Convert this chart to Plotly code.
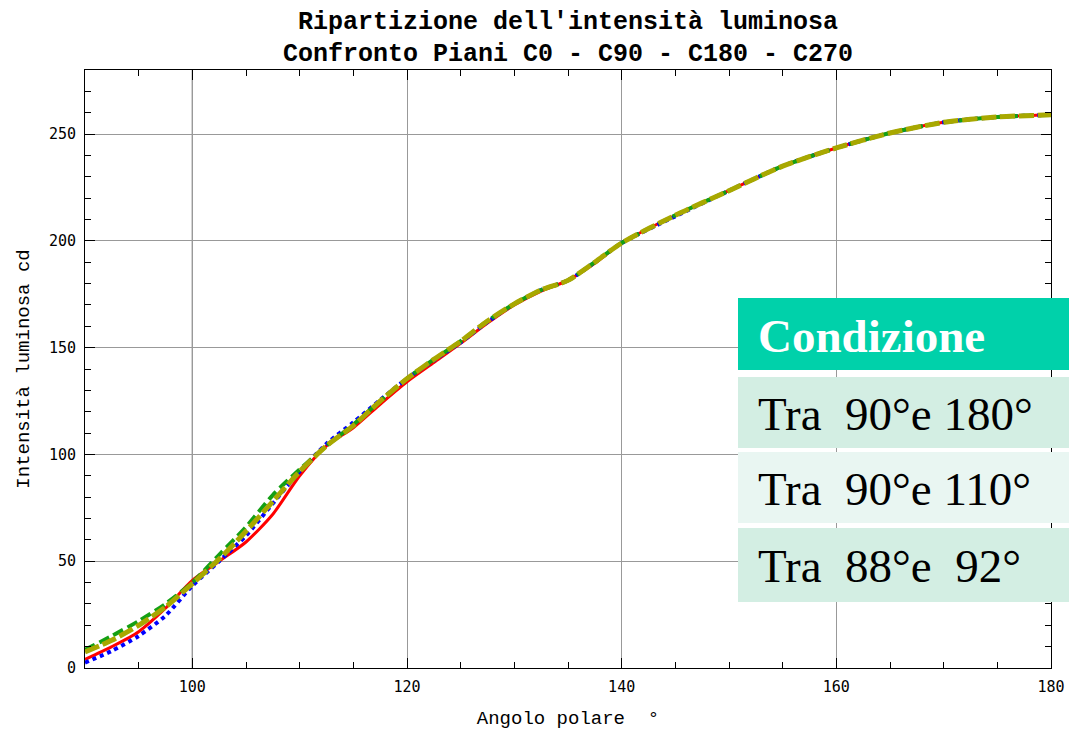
import plotly.graph_objects as go

# Polar angle samples (degrees)
angolo = [90, 92.5, 95, 97.5, 100, 102.5, 105, 107.5, 110, 112.5, 115, 117.5,
          120, 122.5, 125, 127.5, 130, 132.5, 135, 137.5, 140, 145, 150, 155,
          160, 165, 170, 175, 180]

# Luminous intensity (cd) for each C-plane
c0 = [4, 10, 17, 28, 41, 50, 59, 72, 90, 104, 112.5, 123.5, 134, 143, 152,
      161.5, 170, 176.5, 181.5, 189.5, 199, 212, 223.5, 235, 243.5, 250.5, 255.5, 258, 259]
c90 = [2.5, 8, 15, 24.5, 38.5, 50, 62, 77, 92, 105, 115, 125.5, 135.5, 144, 152.5,
       162, 170.5, 177, 181.5, 190, 199, 211.5, 223.5, 235, 243.5, 250.5, 255.5, 258, 259]
c180 = [8.5, 15, 22, 30, 40, 53, 66, 81, 93, 104, 114, 125, 135.5, 144.5, 153,
        162.5, 170.5, 177, 181.5, 190, 199, 212, 223.5, 235, 243.5, 250.5, 255.5, 258, 259]
c270 = [7.5, 13, 20, 28.5, 39.5, 51, 64, 78, 92, 104, 113.5, 125, 135.5, 144.5, 153,
        162.5, 170.5, 177, 181.5, 190, 199, 212, 223.5, 235, 243.5, 250.5, 255.5, 258, 259]

# Title lines
titolo = ["Ripartizione dell'intensità luminosa", "Confronto Piani C0 - C90 - C180 - C270"]

# Condition table
intestazione = "Condizione"
condizioni = ["Tra\u00a0\u00a090°e 180°", "Tra\u00a0\u00a090°e 110°", "Tra\u00a0\u00a088°e\u00a0\u00a092°"]
colori_righe = ["#d3eee3", "#e9f6f2", "#d3eee3"]

fig = go.Figure()

serie = [
    ("C0", c0, dict(color="#ff0000", width=3)),
    ("C90", c90, dict(color="#0000ff", width=4, dash="4px,4px")),
    ("C180", c180, dict(color="#14a014", width=4, dash="11px,5px")),
    ("C270", c270, dict(color="#a8a800", width=5, dash="15px,4px")),
]
for nome, valori, stile in serie:
    fig.add_trace(go.Scatter(x=angolo, y=valori, mode="lines", name=nome,
                             line=dict(shape="spline", smoothing=0.7, **stile),
                             showlegend=False))

W, H = 1070, 730
L, R, T, B = 85, 19, 70, 62
pw, ph = W - L - R, H - T - B


def px(xp):
    return (xp - L) / pw


def py(yp):
    return (H - B - yp) / ph


shapes = [
    # reference line at 100°
    dict(type="line", xref="x", yref="paper", x0=100, x1=100, y0=0, y1=1,
         line=dict(color="black", width=1), layer="below"),
    # table header
    dict(type="rect", xref="paper", yref="paper", x0=px(738), x1=px(1069),
         y0=py(370), y1=py(298), fillcolor="#00d1aa", line=dict(width=0), layer="above"),
]
righe = [(377, 448), (452, 523), (528, 602)]
annotations = [
    dict(xref="paper", yref="paper", x=px(756), y=py(336), xanchor="left", yanchor="middle",
         text="<b>" + intestazione + "</b>", showarrow=False,
         font=dict(family="Liberation Serif", size=47, color="white")),
]
for (ytop, ybot), testo, col in zip(righe, condizioni, colori_righe):
    shapes.append(dict(type="rect", xref="paper", yref="paper", x0=px(738), x1=px(1069),
                       y0=py(ybot), y1=py(ytop), fillcolor=col, line=dict(width=0),
                       layer="above"))
    annotations.append(dict(xref="paper", yref="paper", x=px(756), y=py((ytop + ybot) / 2 + 1),
                            xanchor="left", yanchor="middle", text=testo, showarrow=False,
                            font=dict(family="Liberation Serif", size=47, color="black")))

# two-line title
for riga, ycentro in zip(titolo, [22, 54]):
    annotations.append(dict(xref="paper", yref="paper", x=0.5, y=py(ycentro),
                            xanchor="center", yanchor="middle", showarrow=False,
                            text="<b>" + riga + "</b>",
                            font=dict(family="Liberation Mono", size=25, color="black")))

fig.update_layout(
    width=W, height=H,
    margin=dict(l=L, r=R, t=T, b=B, autoexpand=False),
    paper_bgcolor="white", plot_bgcolor="white",
    shapes=shapes,
    annotations=annotations,
)

fig.update_xaxes(
    range=[90, 180], tick0=100, dtick=20, ticks="inside", ticklen=10,
    tickcolor="black", showline=True, linecolor="black", linewidth=1, mirror="ticks",
    showgrid=True, gridcolor="#999999", gridwidth=1, zeroline=False, automargin=False,
    minor=dict(dtick=5, ticks="inside", ticklen=6, tickcolor="black", showgrid=False),
    tickfont=dict(family="DejaVu Sans Mono", size=15, color="black"), ticklabelstandoff=5,
    title=dict(text="Angolo polare\u00a0\u00a0°", standoff=20,
               font=dict(family="Liberation Mono", size=19, color="black")),
)
fig.update_yaxes(
    range=[0, 280], dtick=50, ticks="inside", ticklen=10,
    tickcolor="black", showline=True, linecolor="black", linewidth=1, mirror="ticks",
    showgrid=True, gridcolor="#999999", gridwidth=1, zeroline=False, automargin=False,
    minor=dict(dtick=10, ticks="inside", ticklen=6, tickcolor="black", showgrid=False),
    tickfont=dict(family="DejaVu Sans Mono", size=15, color="black"), ticklabelstandoff=5,
    title=dict(text="Intensità luminosa cd", standoff=14,
               font=dict(family="Liberation Mono", size=19, color="black")),
)

fig.write_html("out.html")
